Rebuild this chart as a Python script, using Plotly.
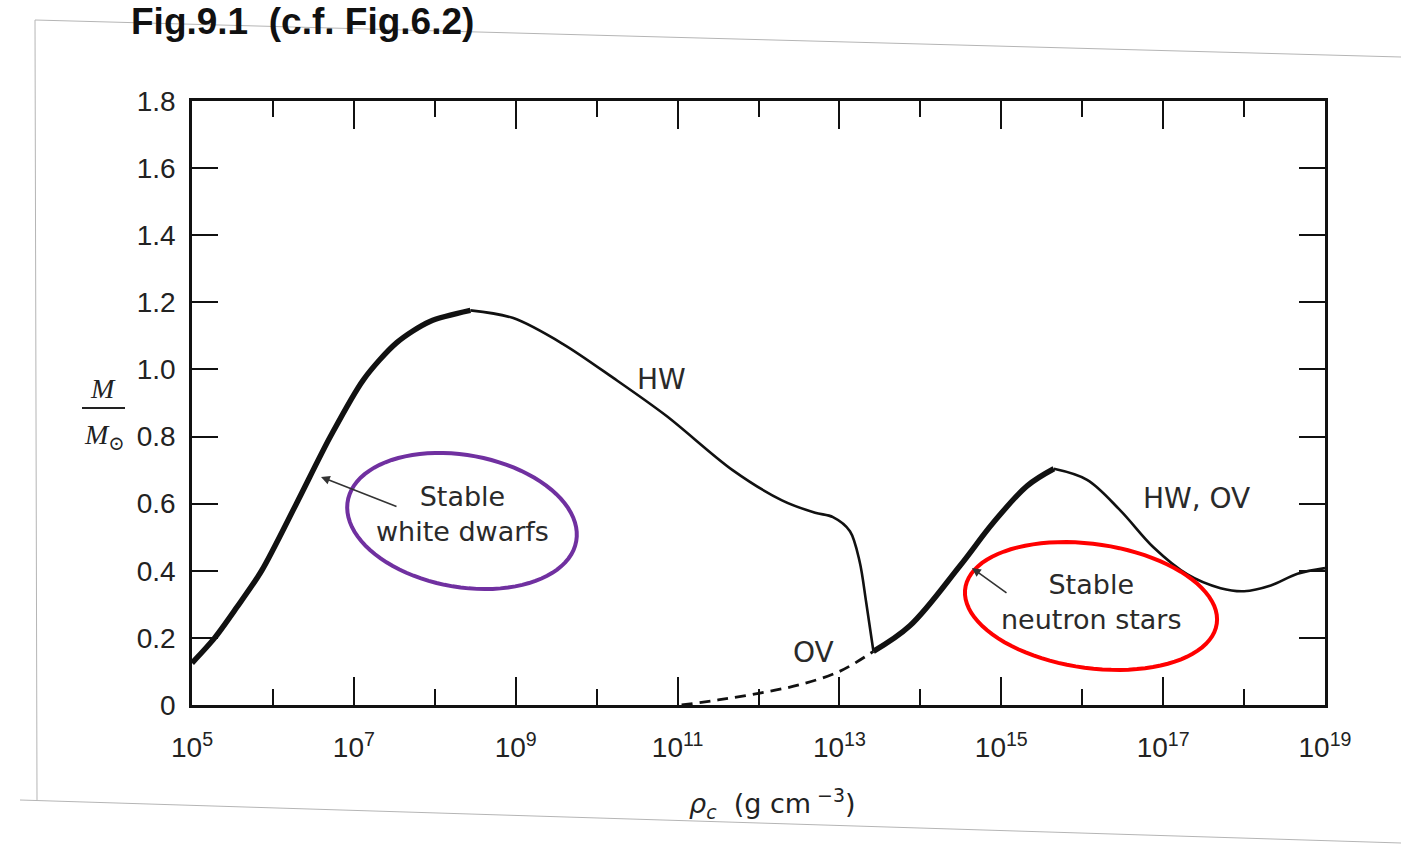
import numpy as np
import plotly.graph_objects as go

# ---------------- data (log10 of central density, M / M_sun) ----------------
wd_stable_logrho = [5.0, 5.28, 5.55, 5.86, 6.29, 6.71, 7.12, 7.53, 7.94, 8.44]
wd_stable_mass   = [0.125, 0.2, 0.29, 0.4, 0.6, 0.8, 0.97, 1.08, 1.143, 1.176]

hw_unstable_logrho = [8.44, 8.97, 9.59, 10.21, 10.86, 11.68, 12.29, 12.70, 12.92, 13.13, 13.25, 13.33, 13.42]
hw_unstable_mass   = [1.176, 1.153, 1.075, 0.974, 0.862, 0.70, 0.61, 0.573, 0.56, 0.518, 0.427, 0.307, 0.16]

ov_logrho = [11.05, 11.5, 12.0, 12.5, 13.0, 13.42]
ov_mass   = [0.0, 0.015, 0.035, 0.06, 0.1, 0.16]

ns_stable_logrho = [13.42, 13.87, 14.49, 14.9, 15.32, 15.65]
ns_stable_mass   = [0.16, 0.236, 0.415, 0.543, 0.653, 0.704]

ns_unstable_logrho = [15.65, 16.06, 16.47, 16.88, 17.3, 17.71, 18.0, 18.33, 18.66, 19.0]
ns_unstable_mass   = [0.704, 0.671, 0.58, 0.47, 0.389, 0.348, 0.339, 0.356, 0.391, 0.408]

x_tick_exponents = [5, 7, 9, 11, 13, 15, 17, 19]
x_minor_exponents = [6, 8, 10, 12, 14, 16, 18]
y_tick_values = [0, 0.2, 0.4, 0.6, 0.8, 1.0, 1.2, 1.4, 1.6, 1.8]
y_tick_labels = ["0", "0.2", "0.4", "0.6", "0.8", "1.0", "1.2", "1.4", "1.6", "1.8"]

# ---------------- layout geometry (pixels) ----------------
W, H = 1401, 846
PL, PR, PT, PB = 192, 1325, 101, 705


def paper(px, py):
    return (px - PL) / (PR - PL), (PB - py) / (PB - PT)


def to_rho(lg):
    return [10.0 ** v for v in lg]


fig = go.Figure()
INK = "#111111"
fig.add_trace(go.Scatter(x=to_rho(wd_stable_logrho), y=wd_stable_mass, mode="lines",
                         line=dict(color=INK, width=5.5, shape="spline", smoothing=0.8), showlegend=False))
fig.add_trace(go.Scatter(x=to_rho(hw_unstable_logrho), y=hw_unstable_mass, mode="lines",
                         line=dict(color=INK, width=2.6, shape="spline", smoothing=0.9), showlegend=False))
fig.add_trace(go.Scatter(x=to_rho(ov_logrho), y=ov_mass, mode="lines",
                         line=dict(color=INK, width=2.8, dash="11px,7px", shape="spline"), showlegend=False))
fig.add_trace(go.Scatter(x=to_rho(ns_stable_logrho), y=ns_stable_mass, mode="lines",
                         line=dict(color=INK, width=5.5, shape="spline", smoothing=1.0), showlegend=False))
fig.add_trace(go.Scatter(x=to_rho(ns_unstable_logrho), y=ns_unstable_mass, mode="lines",
                         line=dict(color=INK, width=2.6, shape="spline", smoothing=1.0), showlegend=False))

TICKFONT = dict(family="Liberation Sans, Arial, sans-serif", size=28, color="#222222")

fig.update_xaxes(
    type="log", range=[5, 19],
    tickmode="array",
    tickvals=[10.0 ** e for e in x_tick_exponents],
    ticktext=["10<sup>%d</sup>" % e for e in x_tick_exponents],
    ticks="inside", ticklen=28, tickwidth=2, tickcolor=INK,
    minor=dict(tickmode="array", tickvals=[10.0 ** e for e in x_minor_exponents],
               ticks="inside", ticklen=16, tickwidth=2, tickcolor=INK, showgrid=False),
    showline=True, linecolor=INK, linewidth=2.5, mirror="ticks",
    showgrid=False, zeroline=False, tickfont=TICKFONT, ticklabelstandoff=16,
)
fig.update_yaxes(
    range=[0, 1.8], tickmode="array", tickvals=y_tick_values, ticktext=y_tick_labels,
    ticks="inside", ticklen=26, tickwidth=2, tickcolor=INK,
    showline=True, linecolor=INK, linewidth=2.5, mirror="ticks",
    showgrid=False, zeroline=False, tickfont=TICKFONT, ticklabelstandoff=8,
)

shapes = []


def ellipse_path(cx, cy, a, b, ang_deg, n=90):
    t = np.linspace(0, 2 * np.pi, n)
    ang = np.radians(ang_deg)
    xs = cx + a * np.cos(t) * np.cos(ang) - b * np.sin(t) * np.sin(ang)
    ys = cy + a * np.cos(t) * np.sin(ang) + b * np.sin(t) * np.cos(ang)
    pts = [paper(x, y) for x, y in zip(xs, ys)]
    return "M " + " L ".join("%.5f,%.5f" % p for p in pts) + " Z"


shapes.append(dict(type="path", xref="paper", yref="paper",
                   path=ellipse_path(462, 521, 116, 66, 10), line=dict(color="#7030A0", width=4)))
shapes.append(dict(type="path", xref="paper", yref="paper",
                   path=ellipse_path(1091, 606, 127, 62, 8), line=dict(color="#FF0000", width=4)))

# scanned page edges
for (x0, y0, x1, y1) in [(35, 20, 1401, 57), (35, 20, 37, 800), (20, 800, 1401, 843)]:
    a0 = paper(x0, y0)
    a1 = paper(x1, y1)
    shapes.append(dict(type="line", xref="paper", yref="paper", x0=a0[0], y0=a0[1], x1=a1[0], y1=a1[1],
                       line=dict(color="#b5b5b5", width=1)))

# y title fraction bar
b0 = paper(82, 408)
b1 = paper(125, 408)
shapes.append(dict(type="line", xref="paper", yref="paper", x0=b0[0], y0=b0[1], x1=b1[0], y1=b1[1],
                   line=dict(color="#222222", width=2)))

annotations = []


def text_at(px, py, txt, size=27, family="DejaVu Sans, sans-serif", color="#2a2a2a", xanchor="center"):
    x, y = paper(px, py)
    annotations.append(dict(xref="paper", yref="paper", x=x, y=y, text=txt, showarrow=False,
                            xanchor=xanchor, yanchor="middle",
                            font=dict(size=size, family=family, color=color)))


text_at(129, 22, "<b>Fig.9.1&nbsp; (c.f. Fig.6.2)</b>", size=37,
        family="Liberation Sans, Arial, sans-serif", color="#111111", xanchor="left")
text_at(661, 379, "HW", size=28)
text_at(1196, 498, "HW, OV", size=28)
text_at(813, 652, "OV", size=28)
text_at(462, 514, "Stable<br>white dwarfs", size=27)
text_at(1091, 602, "Stable<br>neutron stars", size=27)

SERIF = "Liberation Serif, DejaVu Serif, serif"
text_at(103, 388, "<i>M</i>", size=28, family=SERIF, color="#222222")
text_at(104, 436, "<i>M</i><sub>⊙</sub>", size=28, family=SERIF, color="#222222")
text_at(772, 803, "<i>ρ<sub>c</sub></i>&nbsp;&nbsp;(g cm<sup> −3</sup>)", size=27,
        family="DejaVu Sans, sans-serif", color="#222222")

# arrows
for (tx, ty, hx, hy) in [(398, 507, 321, 477), (1008, 594, 972, 568)]:
    hxp, hyp = paper(hx, hy)
    annotations.append(dict(xref="paper", yref="paper", x=hxp, y=hyp, ax=tx - hx, ay=ty - hy,
                            axref="pixel", ayref="pixel", text="", showarrow=True,
                            arrowhead=2, arrowsize=1.1, arrowwidth=1.6, arrowcolor="#333333"))

fig.update_layout(
    width=W, height=H,
    margin=dict(l=PL, r=W - PR, t=PT, b=H - PB),
    paper_bgcolor="white", plot_bgcolor="white",
    shapes=shapes, annotations=annotations, showlegend=False,
)

fig.write_html("out.html")
